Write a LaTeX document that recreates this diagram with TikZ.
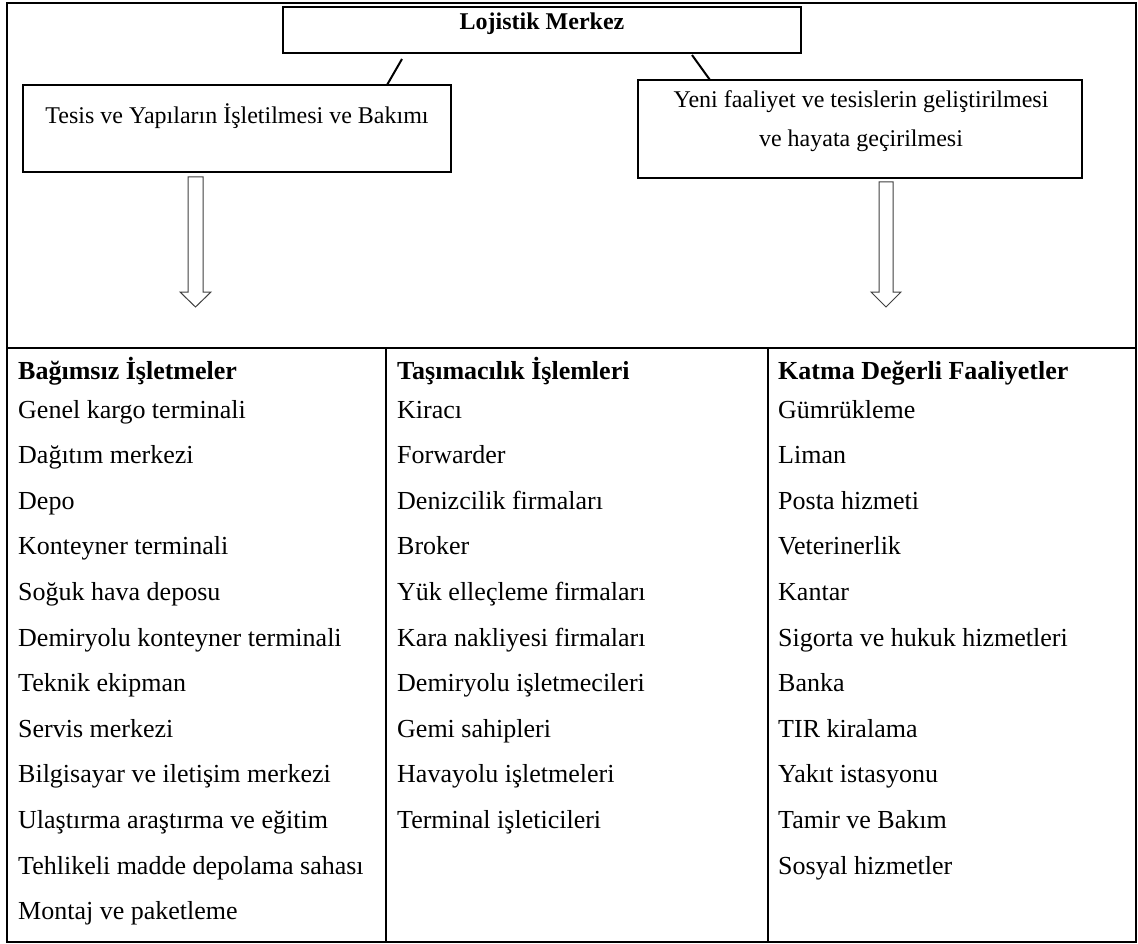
\documentclass[tikz,border=0pt]{standalone}
\usepackage{fontspec}
\setmainfont{Liberation Serif}
\begin{document}
\begin{tikzpicture}[x=1pt,y=-1pt,
  txt/.style={inner sep=0pt, anchor=base west, font=\fontsize{26}{31}\selectfont},
  btxt/.style={inner sep=0pt, anchor=base, font=\fontsize{24}{29}\selectfont},
  hdr/.style={txt, font=\fontsize{26}{31}\selectfont\bfseries},
  boxst/.style={draw, line width=2pt, inner sep=0pt, fill=white},
  frame/.style={line width=2.5pt},
  rule/.style={line width=2pt},
  conn/.style={line width=2pt},
  hollow/.style={draw=black!75, line width=1pt, fill=white, line join=miter}
]
\useasboundingbox (0,0) rectangle (1138,944);
% outer frame and table
\draw[frame] (7,3) rectangle (1136,942);
\coordinate (tl) at (7,348);
\coordinate (tr) at (1136,348);
\draw[rule] (tl) -- (tr);
\coordinate (d1t) at (386,348);
\coordinate (d1b) at (386,942);
\coordinate (d2t) at (768,348);
\coordinate (d2b) at (768,942);
\draw[rule] (d1t) -- (d1b);
\draw[rule] (d2t) -- (d2b);
% boxes
\node[boxst, minimum width=518pt, minimum height=46pt] (lm) at (542,30) {};
\node[btxt, font=\fontsize{24}{29}\selectfont\bfseries] (lmt) at (542,30) {Lojistik Merkez};
\node[boxst, minimum width=428pt, minimum height=87pt] (lb) at (237,128.5) {};
\node[btxt] (lbt) at (237,124) {Tesis ve Yapıların İşletilmesi ve Bakımı};
\node[boxst, minimum width=444pt, minimum height=98pt] (rb) at (860,129) {};
\node[btxt] (rbt1) at (861,108) {Yeni faaliyet ve tesislerin geliştirilmesi};
\node[btxt] (rbt2) at (861,147) {ve hayata geçirilmesi};
% connectors
\coordinate (c1a) at (402,59);
\coordinate (c1b) at (387,85);
\coordinate (c2a) at (692,55);
\coordinate (c2b) at (710,80);
\draw[conn] (c1a) -- (c1b);
\draw[conn] (c2a) -- (c2b);
% hollow arrows
\draw[hollow] (188,177) -- (203,177) -- (203,292) -- (211,292) -- (195.5,307) -- (180,292) -- (188,292) -- cycle;
\draw[hollow] (879,182) -- (893,182) -- (893,292) -- (901,292) -- (886,307) -- (871,292) -- (879,292) -- cycle;
% headers
\node[hdr] (h1) at (18,379) {Bağımsız İşletmeler};
\node[hdr] (h2) at (397,379) {Taşımacılık İşlemleri};
\node[hdr] (h3) at (778,379) {Katma Değerli Faaliyetler};
% columns
\foreach \t [count=\i from 0] in {Genel kargo terminali, Dağıtım merkezi, Depo, Konteyner terminali, Soğuk hava deposu, Demiryolu konteyner terminali, Teknik ekipman, Servis merkezi, Bilgisayar ve iletişim merkezi, Ulaştırma araştırma ve eğitim, Tehlikeli madde depolama sahası, Montaj ve paketleme}
  \node[txt] (a\i) at (18,418+45.6*\i) {\t};
\foreach \t [count=\i from 0] in {Kiracı, Forwarder, Denizcilik firmaları, Broker, Yük elleçleme firmaları, Kara nakliyesi firmaları, Demiryolu işletmecileri, Gemi sahipleri, Havayolu işletmeleri, Terminal işleticileri}
  \node[txt] (b\i) at (397,418+45.6*\i) {\t};
\foreach \t [count=\i from 0] in {Gümrükleme, Liman, Posta hizmeti, Veterinerlik, Kantar, Sigorta ve hukuk hizmetleri, Banka, TIR kiralama, Yakıt istasyonu, Tamir ve Bakım, Sosyal hizmetler}
  \node[txt] (c\i) at (778,418+45.6*\i) {\t};
\end{tikzpicture}
\end{document}
